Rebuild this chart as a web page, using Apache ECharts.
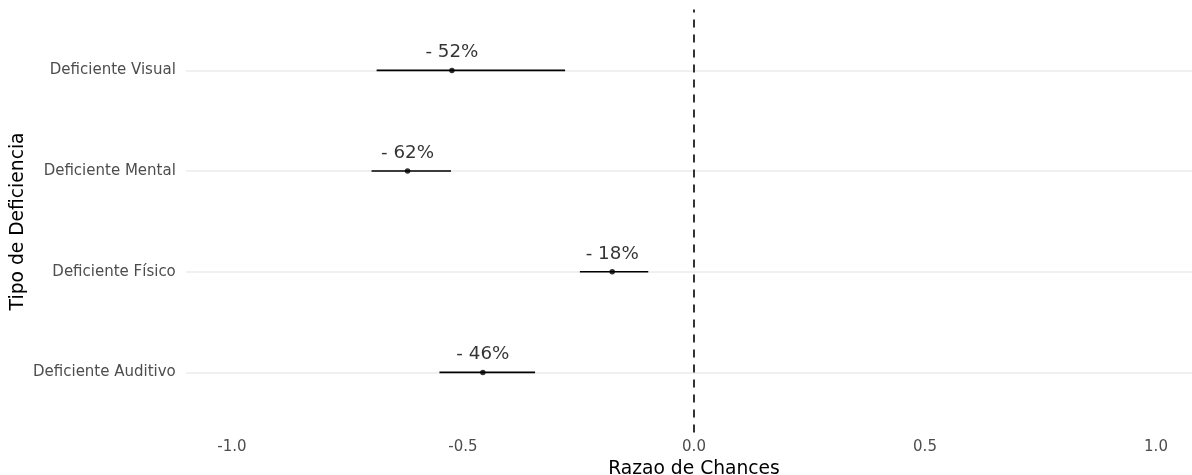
<!DOCTYPE html>
<html>
<head>
<meta charset="utf-8">
<script src="https://cdn.jsdelivr.net/npm/echarts@6/dist/echarts.min.js"></script>
<style>
  html, body { margin: 0; padding: 0; background: #ffffff; }
  #chart { width: 1192px; height: 475px; }
</style>
</head>
<body>
<div id="chart"></div>
<script>
// Odds-ratio change by type of disability, with confidence intervals
const categories = ['Deficiente Visual', 'Deficiente Mental', 'Deficiente Físico', 'Deficiente Auditivo'];
const estimates = [-0.524, -0.620, -0.177, -0.457];
const lower = [-0.687, -0.698, -0.247, -0.551];
const upper = [-0.279, -0.526, -0.099, -0.344];
const xTicks = [-1.0, -0.5, 0.0, 0.5, 1.0];
const xLimits = [-1.1, 1.1];
const refValue = 0;

const FONT = '"DejaVu Sans", sans-serif';
const chart = echarts.init(document.getElementById('chart'), null, { renderer: 'canvas' });

const plotLeft = 185.8;
const plotWidth = 1016.4;

chart.setOption({
  animation: false,
  backgroundColor: '#ffffff',
  textStyle: { fontFamily: FONT },
  grid: [
    // rows: one per category, centred on the gridlines
    { left: plotLeft, width: plotWidth, top: 70.4, height: 302, outerBoundsMode: 'none', containLabel: false },
    // full panel: carries the x labels and the reference line
    { left: plotLeft, width: plotWidth, top: 9.6, height: 422.8, outerBoundsMode: 'none', containLabel: false }
  ],
  xAxis: [
    { gridIndex: 0, type: 'value', min: xLimits[0], max: xLimits[1], show: false },
    {
      gridIndex: 1, type: 'value', min: xLimits[0], max: xLimits[1],
      axisLine: { show: false }, axisTick: { show: false }, splitLine: { show: false },
      axisLabel: {
        customValues: xTicks,
        formatter: v => v.toFixed(1),
        color: '#4d4d4d', fontSize: 15, fontFamily: FONT, margin: 7
      },
      name: 'Razao de Chances', nameLocation: 'middle', nameGap: 27, nameMoveOverlap: false,
      nameTextStyle: { fontSize: 18.7, color: '#000000', fontFamily: FONT }
    }
  ],
  yAxis: [
    {
      gridIndex: 0, type: 'category', data: categories, inverse: true, boundaryGap: false,
      axisLine: { show: false }, axisTick: { show: false },
      splitLine: { show: true, lineStyle: { color: '#ebebeb', width: 1.5 } },
      axisLabel: { color: '#4d4d4d', fontSize: 15, fontFamily: FONT, margin: 10 },
      name: 'Tipo de Deficiencia', nameLocation: 'middle', nameRotate: 90, nameGap: 158,
      nameMoveOverlap: false,
      nameTextStyle: { fontSize: 18.7, color: '#000000', fontFamily: FONT }
    },
    { gridIndex: 1, type: 'value', min: 0, max: 1, show: false }
  ],
  series: [
    {
      // vertical dashed reference line at zero
      type: 'custom', xAxisIndex: 1, yAxisIndex: 1, silent: true, z: 3,
      data: [[refValue, 0, 1]],
      renderItem: (params, api) => {
        const a = api.coord([api.value(0), api.value(1)]);
        const b = api.coord([api.value(0), api.value(2)]);
        return {
          type: 'line',
          shape: { x1: a[0], y1: a[1], x2: b[0], y2: b[1] },
          style: { stroke: '#000000', lineWidth: 1.6, lineDash: [8, 7] }
        };
      }
    },
    {
      // confidence interval segments
      type: 'custom', xAxisIndex: 0, yAxisIndex: 0, silent: true, z: 4,
      data: categories.map((c, i) => [lower[i], upper[i], i]),
      encode: { x: [0, 1], y: 2 },
      renderItem: (params, api) => {
        const a = api.coord([api.value(0), api.value(2)]);
        const b = api.coord([api.value(1), api.value(2)]);
        return {
          type: 'line',
          shape: { x1: a[0], y1: a[1], x2: b[0], y2: b[1] },
          style: { stroke: '#000000', lineWidth: 1.6 }
        };
      }
    },
    {
      // point estimates with percentage labels
      type: 'scatter', xAxisIndex: 0, yAxisIndex: 0, z: 5,
      symbol: 'circle', symbolSize: 5.5,
      itemStyle: { color: '#000000' },
      data: estimates.map((v, i) => [v, i]),
      label: {
        show: true, position: 'top', distance: 6,
        formatter: p => '- ' + Math.round(-p.value[0] * 100) + '%',
        fontSize: 18.3, color: '#000000', fontFamily: FONT
      }
    }
  ]
});
</script>
</body>
</html>
